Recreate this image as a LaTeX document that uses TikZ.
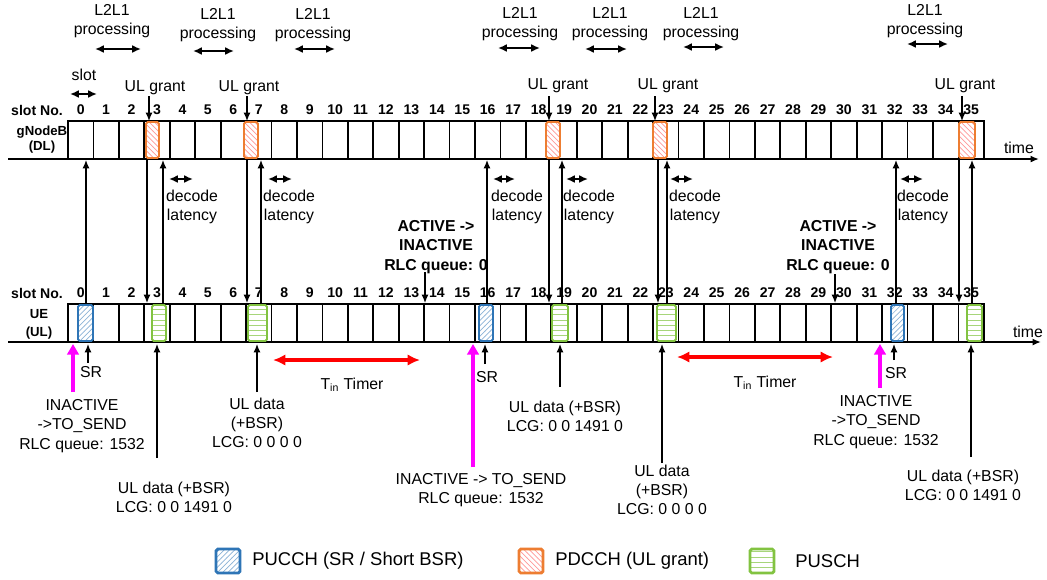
\documentclass[tikz,border=0pt]{standalone}
\usepackage{fontspec}
\setmainfont{Liberation Sans}
\usetikzlibrary{arrows.meta, patterns}

\definecolor{puccol}{RGB}{46,117,182}
\definecolor{pdccol}{RGB}{237,125,49}
\definecolor{puscol}{RGB}{130,195,65}
\definecolor{statecol}{RGB}{255,0,255}
\definecolor{timercol}{RGB}{255,0,0}

\tikzset{
  txt/.style={font=\fontsize{9}{11}\selectfont, align=center, inner sep=0pt},
  boldtxt/.style={font=\fontsize{9}{11.2}\selectfont\bfseries, align=center, inner sep=0pt},
  num/.style={font=\fontsize{8}{9.6}\selectfont\bfseries, inner sep=0pt},
  rowlbl/.style={font=\fontsize{7.5}{8.6}\selectfont\bfseries, align=center, inner sep=0pt},
  legtxt/.style={font=\fontsize{10.5}{12}\selectfont, anchor=west, inner sep=0pt},
  pucch/.style={draw=puccol, line width=1.1pt, rounded corners=1pt, preaction={fill=white}, pattern=north east lines, pattern color=puccol!55},
  pdcch/.style={draw=pdccol, line width=1.1pt, rounded corners=1pt, preaction={fill=white}, pattern=north west lines, pattern color=red!40},
  pusch/.style={draw=puscol, line width=1.1pt, rounded corners=1pt, preaction={fill=white}, pattern=horizontal lines, pattern color=puscol!70},
  link/.style={->, line width=0.7pt},
  span/.style={{Latex[length=5pt,width=4.5pt]}-{Latex[length=5pt,width=4.5pt]}, line width=1pt},
  timer/.style={{Latex[length=7pt,width=6.5pt]}-{Latex[length=7pt,width=6.5pt]}, timercol, line width=1.8pt},
}

\begin{document}
\begin{tikzpicture}[x=0.02cm, y=-0.02cm, >={Latex[length=4.8pt,width=4pt]}]
  \useasboundingbox (0,0) rectangle (1047,579);

  % L2L1 processing
  \foreach \cx/\ty/\ay/\xa/\xb [count=\i] in {112/21/49/95/141, 218/25/51/193/234, 313/25/49/294/335, 520/24/48/498/540, 610/24/49/585/627, 701/24/47/683/724, 925/21/44/907/948} {
    \node[txt] (proc\i) at (\cx,\ty) {L2L1\\processing};
    \draw[span] (\xa,\ay) -- (\xb,\ay);
  }

  % slot width
  \node[txt] (slotlbl) at (84,75) {slot};
  \draw[span] (70,94) -- (97,94);

  % gNodeB (DL)
  \node[num] (dlno) at (37,110) {slot No.};
  \node[rowlbl] (dlname) at (42,140) {gNodeB\\(DL)};
  \foreach \n in {0,...,35}
    \node[num] (dn\n) at ({80.7+25.44*\n},110) {\n};
  \foreach \n in {1,...,35}
    \draw[line width=1pt] ({68+25.44*\n},121) -- ({68+25.44*\n},159);
  \draw[line width=1.4pt] (68,121) rectangle (984,159);
  \draw[->, line width=1.3pt] (8,159) -- (1039,159);
  \node[txt] (dltime) at (1019,148) {time};
  \foreach \xa/\xb in {146/159, 244/258, 546/560, 653/667, 959/975}
    \draw[pdcch] (\xa,122) rectangle (\xb,158);

  % UL grants
  \foreach \tx/\ty/\ax [count=\i] in {155/88/149, 249/88/247, 558/86/549, 668/86/655, 965/86/962} {
    \node[txt] (grant\i) at (\tx,\ty) {UL grant};
    \draw[link] (\ax,96) -- (\ax,121);
  }

  % UE (UL)
  \node[num] (ulno) at (37,293) {slot No.};
  \node[rowlbl, font=\fontsize{7.5}{10.2}\selectfont\bfseries] (ulname) at (39,324) {UE\\(UL)};
  \foreach \n in {0,...,35}
    \node[num] (un\n) at ({80.7+25.44*\n},293) {\n};
  \foreach \n in {1,...,35}
    \draw[line width=1pt] ({68+25.44*\n},304) -- ({68+25.44*\n},342);
  \draw[line width=1.4pt] (68,304) rectangle (984,342);
  \draw[->, line width=1.3pt] (8,342) -- (1041,342);
  \node[txt] (ultime) at (1028,332) {time};
  \foreach \xa/\xb in {78/93, 479/493, 891/904}
    \draw[pucch] (\xa,305) rectangle (\xb,341);
  \foreach \xa/\xb in {152/166, 248/267, 552/568, 657/676, 967/982}
    \draw[pusch] (\xa,305) rectangle (\xb,341);

  % UE -> gNodeB and gNodeB -> UE
  \foreach \x in {86,163,261,487,562,667,896,972}
    \draw[link] (\x,304) -- (\x,160);
  \foreach \x in {147,247,549,658,959}
    \draw[link] (\x,159) -- (\x,303);

  % decode latency
  \foreach \cx/\xa/\xb [count=\i] in {192/169/193, 289/268/292, 517/493/515, 589/566/588, 695/670/693, 923/900/923} {
    \draw[span] (\xa,179) -- (\xb,179);
    \node[txt] (dec\i) at (\cx,207) {decode\\latency};
  }

  % ACTIVE -> INACTIVE
  \node[boldtxt] (act1) at (436,247) {ACTIVE ->\\INACTIVE\\RLC queue: 0};
  \draw[link] (425,272) -- (425,303);
  \node[boldtxt] (act2) at (838,247) {ACTIVE ->\\INACTIVE\\RLC queue: 0};
  \draw[link] (835,274) -- (835,303);

  % INACTIVE -> TO_SEND
  \foreach \x/\y in {73/392, 473/467, 880/388}
    \draw[-{Triangle[length=6pt,width=6.5pt]}, statecol, line width=2.2pt] (\x,\y) -- (\x,344);
  \node[txt] (send1) at (82,426) {INACTIVE\\->TO\_SEND\\RLC queue: 1532};
  \node[txt] (send2) at (481,490) {INACTIVE -> TO\_SEND\\RLC queue: 1532};
  \node[txt] (send3) at (876,422) {INACTIVE\\->TO\_SEND\\RLC queue: 1532};

  % SR
  \foreach \x/\y/\lx/\ly [count=\i] in {88/363/91/372, 485/364/487/377, 894/360/896/373} {
    \draw[link] (\x,\y) -- (\x,344);
    \node[txt] (sr\i) at (\lx,\ly) {SR};
  }

  % UL data
  \draw[link] (157,458) -- (157,344);
  \node[txt] (data1) at (174,497) {UL data (+BSR)\\LCG: 0 0 1491 0};
  \draw[link] (257,392) -- (257,344);
  \node[txt] (data2) at (257,423) {UL data\\(+BSR)\\LCG: 0 0 0 0};
  \draw[link] (560,387) -- (560,344);
  \node[txt] (data3) at (565,416) {UL data (+BSR)\\LCG: 0 0 1491 0};
  \draw[link] (662,463) -- (662,344);
  \node[txt] (data4) at (662,490) {UL data\\(+BSR)\\LCG: 0 0 0 0};
  \draw[link] (971,457) -- (971,344);
  \node[txt] (data5) at (963,485) {UL data (+BSR)\\LCG: 0 0 1491 0};

  % T_in timer
  \draw[timer] (273,360) -- (420,360);
  \node[txt] (tin1) at (352,385) {T\textsubscript{in} Timer};
  \draw[timer] (677,357) -- (833,357);
  \node[txt] (tin2) at (765,383) {T\textsubscript{in} Timer};

  % legend
  \draw[pucch, line width=1.6pt] (216,549) rectangle (240,573);
  \node[legtxt] (legpucch) at (252,561) {PUCCH (SR / Short BSR)};
  \draw[pdcch, line width=1.6pt] (519,549) rectangle (543,573);
  \node[legtxt] (legpdcch) at (555,561) {PDCCH (UL grant)};
  \draw[pusch, line width=1.6pt] (750,549) rectangle (774,573);
  \node[legtxt] (legpusch) at (795,561) {PUSCH};
\end{tikzpicture}
\end{document}
